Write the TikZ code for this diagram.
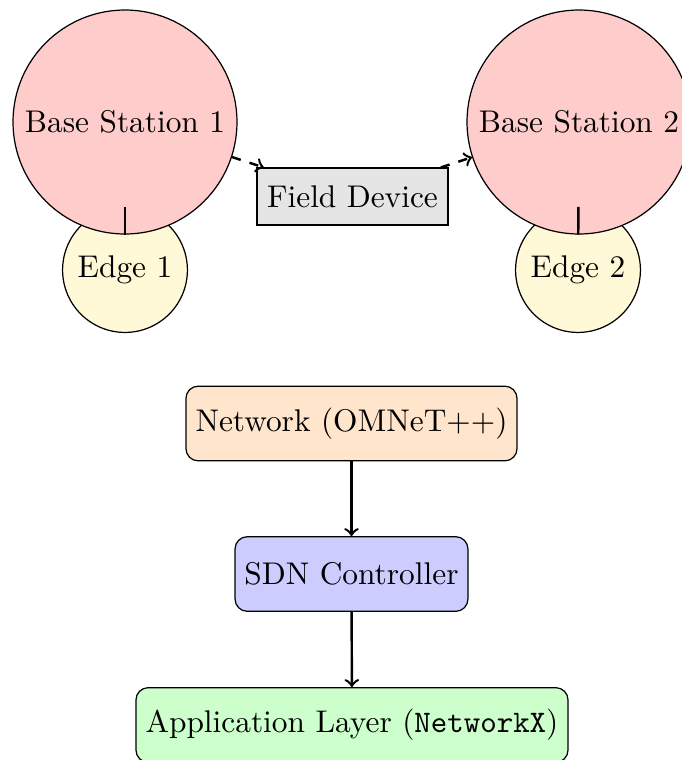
\documentclass[tikz,border=0pt]{standalone}
\usetikzlibrary{arrows}
\definecolor{edgefill}{RGB}{255,249,215}
\begin{document}
\begin{tikzpicture}[x=0.3268pt,y=-0.3268pt,
  every node/.style={font=\fontsize{10.25pt}{12pt}\selectfont},
  station/.style={circle,draw,fill=red!20,minimum size=73.2pt,inner sep=0pt},
  edgenode/.style={circle,draw,fill=edgefill,minimum size=40.8pt,inner sep=0pt},
  device/.style={rectangle,draw,fill=gray!20,minimum width=62.4pt,minimum height=18.6pt,inner sep=0pt},
  layer/.style={rectangle,rounded corners,draw,minimum height=24.4pt,inner sep=0pt},
  link/.style={thick},
  flow/.style={thick,->},
  radio/.style={thick,dashed,->}]
  \useasboundingbox (0,0) rectangle (681,760);
  % edge servers sit behind their base stations
  \node[edgenode] (e1) at (125,270) {Edge 1};
  \node[edgenode] (e2) at (578,270) {Edge 2};
  \node[station] (bs1) at (125,122) {Base Station 1};
  \node[station] (bs2) at (579,122) {Base Station 2};
  \node[device] (fd) at (352.5,196.5) {Field Device};
  \draw[link] (bs1) -- (e1);
  \draw[link] (bs2) -- (e2);
  \draw[radio] (bs1) -- (fd);
  \draw[radio] (fd) -- (bs2);
  % software stack
  \node[layer,fill=orange!20,minimum width=108.2pt] (net) at (351.5,423.5) {Network (OMNeT++)};
  \node[layer,fill=blue!20,minimum width=76.1pt] (sdn) at (351.5,574) {SDN Controller};
  \node[layer,fill=green!20,minimum width=141.2pt] (app) at (352,725) {Application Layer (\texttt{NetworkX})};
  \draw[flow] (net) -- (sdn);
  \draw[flow] (sdn) -- (app);
\end{tikzpicture}
\end{document}
